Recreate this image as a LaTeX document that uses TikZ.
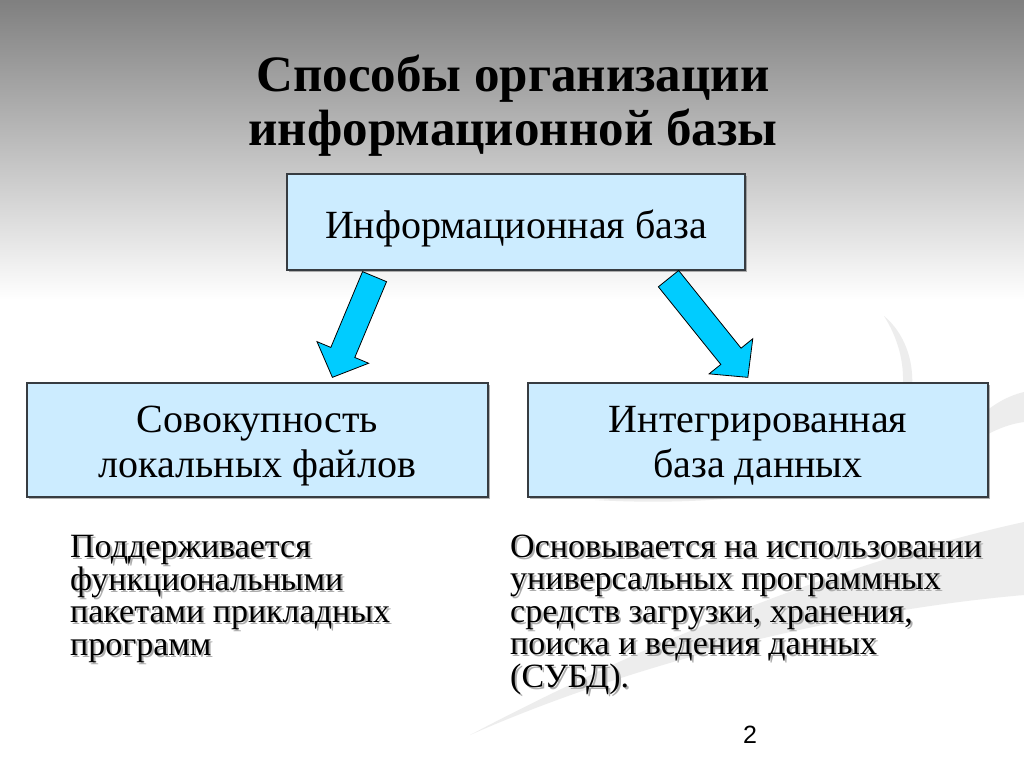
\documentclass[tikz,border=0pt]{standalone}
\usepackage{fontspec}
\setmainfont{Liberation Serif}
\newfontfamily\numfont{Liberation Sans}
\usepackage{tikz}
\usetikzlibrary{calc,shadows}

\definecolor{boxblue}{RGB}{204,236,255}
\definecolor{arrowblue}{RGB}{0,204,255}
\definecolor{edgegray}{RGB}{55,60,65}

\tikzstyle{infobox} = [rectangle, draw=edgegray, line width=1.3pt, fill=boxblue, align=center, inner sep=0pt,
    font=\fontsize{40}{45}\selectfont,
    drop shadow={shadow xshift=2pt, shadow yshift=-2pt, opacity=0.5, fill=black!60}]
\tikzstyle{note} = [anchor=base west, inner sep=0pt, font=\fontsize{34}{32.5}\selectfont]
\tikzstyle{swoosh} = [fill=black!7, draw=none]
\tikzstyle{arrowbody} = [fill=arrowblue, draw=black, line width=0.8pt, line join=miter]

% text with a soft grey shadow
\newcommand{\shadowed}[1]{\leavevmode\rlap{\raisebox{-2pt}[0pt][0pt]{\kern2pt\color{black!32}#1}}#1}
% two centred lines, set a little low in the box
\newcommand{\twolines}[2]{\raisebox{-6pt}[\height][\depth]{\begin{tabular}{@{}c@{}}#1\\#2\end{tabular}}}
% block arrow from tail #1 to tip #2
\newcommand{\blockarrow}[2]{%
  \draw[arrowbody] ($(#1)!13pt!90:(#2)$)
    -- ($($(#2)!27pt!(#1)$)!13pt!90:(#2)$)
    -- ($($(#2)!27pt!(#1)$)!28pt!90:(#2)$)
    -- (#2)
    -- ($($(#2)!27pt!(#1)$)!28pt!-90:(#2)$)
    -- ($($(#2)!27pt!(#1)$)!13pt!-90:(#2)$)
    -- ($(#1)!13pt!-90:(#2)$) -- cycle;}

\begin{document}
\begin{tikzpicture}[x=1pt, y=-1pt]
\useasboundingbox (0,0) rectangle (1024,768);

%Background==========================================
\shade[top color=black!50, bottom color=white] (0,0) rectangle (1024,300);
\fill[white] (0,300) rectangle (1024,768);
\fill[swoosh] (884,316) .. controls (925,350) and (925,430) .. (860,468)
    .. controls (800,500) and (680,505) .. (595,500)
    .. controls (690,495) and (830,480) .. (872,450)
    .. controls (910,415) and (912,360) .. (884,316) -- cycle;
\fill[swoosh] (1024,522) .. controls (850,560) and (650,640) .. (470,735)
    .. controls (640,660) and (850,610) .. (1024,595) -- cycle;
\fill[swoosh] (1024,392) .. controls (990,400) and (960,430) .. (945,470)
    .. controls (970,440) and (1000,425) .. (1024,422) -- cycle;

%Title===============================================
\node (title) [align=center, inner sep=0pt, font=\bfseries\fontsize{51}{54}\selectfont] at (513,106)
    {Способы организации\\информационной базы};

%Box 1===============================================
\node (info) [infobox, minimum width=458pt, minimum height=96pt, text height=40pt, text depth=8pt] at (516,222)
    {Информационная база};

%Box 2===============================================
\node (local) [infobox, minimum width=461pt, minimum height=114pt] at (257.5,440)
    {\twolines{Совокупность}{локальных файлов}};

%Box 3===============================================
\node (integ) [infobox, minimum width=460pt, minimum height=114pt] at (758,440)
    {\twolines{Интегрированная}{база данных}};

%Notes===============================================
\node (supp) [note] at (70,557)
    {\shadowed{\begin{tabular}[t]{@{}l@{}}Поддерживается\\функциональными\\пакетами прикладных\\программ\end{tabular}}};
\node (base) [note] at (510,557)
    {\shadowed{\begin{tabular}[t]{@{}l@{}}Основывается на использовании\\универсальных программных\\средств загрузки, хранения,\\поиска и ведения данных\\(СУБД).\end{tabular}}};

\node (pagenum) [anchor=base, inner sep=0pt, font=\numfont\fontsize{25}{30}\selectfont] at (750,743) {2};

%Arrows==============================================
\coordinate (lTail) at ($(info.south west)!0.192!(info.south east)+(0,6)$);
\coordinate (lTip) at ($(local.north west)!0.662!(local.north east)+(0,-5)$);
\coordinate (rTail) at ($(info.south west)!0.832!(info.south east)+(0,8)$);
\coordinate (rTip) at ($(integ.north west)!0.478!(integ.north east)+(0,-5)$);
\blockarrow{lTail}{lTip}
\blockarrow{rTail}{rTip}
\end{tikzpicture}
\end{document}
